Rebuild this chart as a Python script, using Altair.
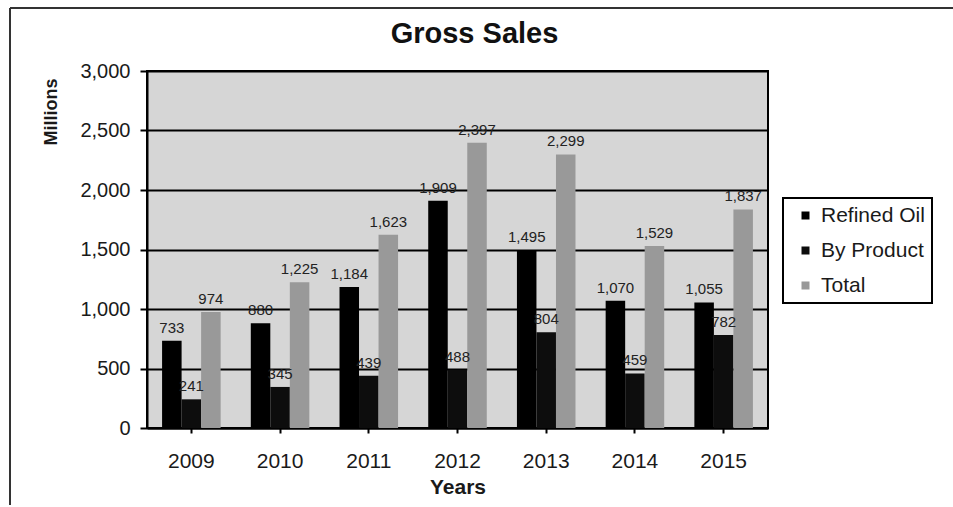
import altair as alt
import pandas as pd

years = ["2009", "2010", "2011", "2012", "2013", "2014", "2015"]
refined_oil = [733, 880, 1184, 1909, 1495, 1070, 1055]
by_product = [241, 345, 439, 488, 804, 459, 782]
total = [974, 1225, 1623, 2397, 2299, 1529, 1837]
series = ["Refined Oil", "By Product", "Total"]
colors = ["#000000", "#0d0d0d", "#999999"]

rows = []
for i, y in enumerate(years):
    for s, vals in zip(series, [refined_oil, by_product, total]):
        rows.append({"Year": y, "Series": s, "Value": vals[i],
                     "Label": f"{vals[i]:,}"})
df = pd.DataFrame(rows)

FONT = "Liberation Sans"

x_enc = alt.X("Year:N", sort=years, title="Years",
              scale=alt.Scale(paddingInner=0.34, paddingOuter=0.17),
              axis=alt.Axis(labelAngle=0, labelFontSize=21, labelColor="#1a1a1a",
                            titleFontSize=21, titleFontWeight="bold", titlePadding=5,
                            tickSize=5, labelPadding=17, domainColor="#000", domainWidth=2,
                            tickColor="#000", tickWidth=2, titleColor="#1a1a1a"))
xoff = alt.XOffset("Series:N", sort=series, scale=alt.Scale(paddingInner=0, paddingOuter=0))

bars = alt.Chart(df).mark_bar().encode(
    x=x_enc,
    xOffset=xoff,
    y=alt.Y("Value:Q", title="Millions",
            scale=alt.Scale(domain=[0, 3000], nice=False),
            axis=alt.Axis(values=[0, 500, 1000, 1500, 2000, 2500, 3000], format=",d",
                          labelFontSize=20, labelColor="#1a1a1a", labelPadding=10,
                          tickSize=7, tickColor="#000", tickWidth=2,
                          gridColor="#000", gridWidth=2, domainColor="#000", domainWidth=2,
                          titleFontSize=18, titleFontWeight="bold", titleAnchor="end",
                          titleY=7, titlePadding=19, titleColor="#1a1a1a")),
    color=alt.Color("Series:N", sort=series, title=None,
                    scale=alt.Scale(domain=series, range=colors),
                    legend=alt.Legend(orient="none", legendX=636, legendY=127,
                                      strokeColor="#000", padding=7,
                                      labelFontSize=21, labelColor="#1a1a1a", symbolType="square",
                                      symbolSize=64, symbolStrokeWidth=0, rowPadding=13,
                                      symbolOffset=5, labelOffset=5,
                                      labelLimit=200, fillColor="#fff")),
)

labels = alt.Chart(df).mark_text(dy=-5, baseline="bottom", fontSize=15, font=FONT,
                                 color="#222").encode(
    x=alt.X("Year:N", sort=years),
    xOffset=xoff,
    y="Value:Q",
    text="Label:N",
)

frame_top = alt.Chart(alt.Data(values=[{}])).mark_rule(color="#333", strokeWidth=2).encode(
    x=alt.value(-137), x2=alt.value(806), y=alt.value(-63))
frame_left = alt.Chart(alt.Data(values=[{}])).mark_rule(color="#333", strokeWidth=2).encode(
    x=alt.value(-137), y=alt.value(-63), y2=alt.value(434))

chart = alt.layer(bars, labels, frame_top, frame_left).properties(
    width=621, height=357,
    title=alt.TitleParams("Gross Sales", fontSize=29, fontWeight="bold", font=FONT,
                          anchor="middle", frame="group", offset=-42, dx=17,
                          color="#111"),
    autosize=alt.AutoSizeParams(type="none"),
    padding={"left": 147, "top": 71, "right": 185, "bottom": 79},
).configure(font=FONT).configure_view(
    fill="#d6d6d6", stroke="#000", strokeWidth=2
).configure_axis(labelFont=FONT, titleFont=FONT).configure_legend(
    labelFont=FONT, strokeWidth=2)

chart.save("out.html", embed_options={"renderer": "svg", "actions": False})
